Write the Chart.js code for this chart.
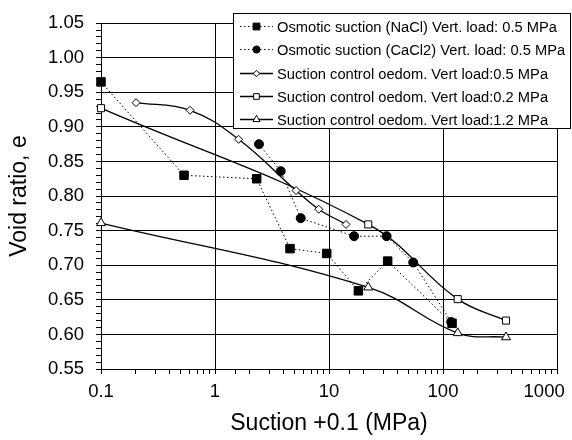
<!DOCTYPE html>
<html>
<head>
<meta charset="utf-8">
<script src="https://cdn.jsdelivr.net/npm/chart.js@4.4.1/dist/chart.umd.min.js"></script>
<style>
  html, body { margin: 0; padding: 0; background: #fff; }
  #wrap { width: 572px; height: 440px; }
</style>
</head>
<body>
<div id="wrap"><canvas id="voidChart" width="572" height="440"></canvas></div>
<script>
// Suction + 0.1 (MPa) against void ratio e, one pair of arrays per test series
const suctionNaCl = [0.1, 0.535, 2.32, 4.55, 9.55, 18.1, 32.7, 120];
const voidNaCl    = [0.965, 0.830, 0.825, 0.724, 0.717, 0.663, 0.706, 0.616];

const suctionCaCl2 = [2.43, 3.77, 5.65, 16.6, 32, 54.8, 118];
const voidCaCl2    = [0.875, 0.836, 0.768, 0.742, 0.742, 0.704, 0.618];

const suctionOed05 = [0.203, 0.604, 1.61, 5.14, 8.13, 14.1];
const voidOed05    = [0.935, 0.924, 0.882, 0.808, 0.781, 0.759];

const suctionOed02 = [0.1, 22.1, 134.6, 357];
const voidOed02    = [0.927, 0.759, 0.651, 0.620];

const suctionOed12 = [0.1, 22.1, 134.6, 357];
const voidOed12    = [0.761, 0.668, 0.602, 0.596];

const seriesLabels = [
    'Osmotic suction (NaCl) Vert. load: 0.5 MPa',
    'Osmotic suction (CaCl2) Vert. load: 0.5 MPa',
    'Suction control oedom. Vert load:0.5 MPa',
    'Suction control oedom. Vert load:0.2 MPa',
    'Suction control oedom. Vert load:1.2 MPa'
];

const xTickLabels = ['0.1', '1', '10', '100', '1000'];
const xRange = [0.1, 1000];
const yRange = [0.55, 1.05];

const FONT = '"Liberation Sans", Arial, sans-serif';

function toPoints(xs, ys) {
    return xs.map((x, i) => ({ x: x, y: ys[i] }));
}

function isDecade(v) {
    const p = Math.log10(v);
    return Math.abs(p - Math.round(p)) < 1e-9;
}

function isMajorY(v) {
    return Math.round(v * 100) % 5 === 0;
}

// Boxed legend in the top right corner, drawn over the grid
const boxLegend = {
    id: 'boxLegend',
    afterDraw(chart) {
        const ctx = chart.ctx;
        const left = 233, top = 13, right = 570, bottom = 128;
        ctx.save();
        ctx.fillStyle = '#fff';
        ctx.fillRect(left, top, right - left, bottom - top);
        ctx.strokeStyle = '#000';
        ctx.lineWidth = 1;
        ctx.strokeRect(left + 0.5, top + 0.5, right - left, bottom - top);
        ctx.font = '14.7px ' + FONT;
        ctx.textBaseline = 'middle';
        ctx.textAlign = 'left';
        chart.data.datasets.forEach((ds, i) => {
            const y = Math.round(26 + i * 23.3) + 0.5;
            ctx.strokeStyle = '#000';
            ctx.lineWidth = ds.borderWidth;
            ctx.setLineDash(ds.borderDash || []);
            ctx.beginPath();
            ctx.moveTo(240, y);
            ctx.lineTo(273, y);
            ctx.stroke();
            ctx.setLineDash([]);
            ctx.fillStyle = ds.pointBackgroundColor;
            ctx.lineWidth = 1;
            Chart.helpers.drawPoint(ctx, {
                pointStyle: ds.pointStyle,
                radius: ds.pointRadius * 0.8,
                borderWidth: 1,
                rotation: 0
            }, 256.5, y);
            ctx.fillStyle = '#000';
            ctx.fillText(ds.label, 277, y + 1);
        });
        ctx.restore();
    }
};

const dotted = [1.5, 2.5];

new Chart(document.getElementById('voidChart'), {
    type: 'scatter',
    data: {
        datasets: [
            {
                label: seriesLabels[0],
                data: toPoints(suctionNaCl, voidNaCl),
                showLine: true,
                borderColor: '#000',
                borderWidth: 1,
                borderDash: dotted,
                tension: 0,
                pointStyle: 'rect',
                pointRadius: 6,
                pointBackgroundColor: '#000',
                pointBorderColor: '#000',
                pointBorderWidth: 1,
                clip: false
            },
            {
                label: seriesLabels[1],
                data: toPoints(suctionCaCl2, voidCaCl2),
                showLine: true,
                borderColor: '#000',
                borderWidth: 1,
                borderDash: dotted,
                tension: 0,
                pointStyle: 'circle',
                pointRadius: 4.5,
                pointBackgroundColor: '#000',
                pointBorderColor: '#000',
                pointBorderWidth: 1,
                clip: false
            },
            {
                label: seriesLabels[2],
                data: toPoints(suctionOed05, voidOed05),
                showLine: true,
                borderColor: '#000',
                borderWidth: 1.3,
                tension: 0.4,
                pointStyle: 'rectRot',
                pointRadius: 4,
                pointBackgroundColor: '#fff',
                pointBorderColor: '#000',
                pointBorderWidth: 1,
                clip: false
            },
            {
                label: seriesLabels[3],
                data: toPoints(suctionOed02, voidOed02),
                showLine: true,
                borderColor: '#000',
                borderWidth: 1.3,
                tension: 0.4,
                pointStyle: 'rect',
                pointRadius: 5,
                pointBackgroundColor: '#fff',
                pointBorderColor: '#000',
                pointBorderWidth: 1,
                clip: false
            },
            {
                label: seriesLabels[4],
                data: toPoints(suctionOed12, voidOed12),
                showLine: true,
                borderColor: '#000',
                borderWidth: 1.3,
                tension: 0.4,
                pointStyle: 'triangle',
                pointRadius: 5.2,
                pointBackgroundColor: '#fff',
                pointBorderColor: '#000',
                pointBorderWidth: 1,
                clip: false
            }
        ]
    },
    options: {
        responsive: false,
        animation: false,
        layout: { padding: { top: 22, right: 15, left: 0, bottom: 0 } },
        plugins: {
            legend: { display: false },
            tooltip: { enabled: false }
        },
        scales: {
            x: {
                type: 'logarithmic',
                min: xRange[0],
                max: xRange[1],
                afterFit(scale) {
                    scale.height = 71;
                    scale.paddingLeft = 0;
                    scale.paddingRight = 0;
                },
                ticks: {
                    autoSkip: false,
                    maxRotation: 0,
                    padding: 7,
                    color: '#000',
                    font: { family: FONT, size: 18.5 },
                    callback(v) {
                        if (!isDecade(v)) return '';
                        const idx = Math.round(Math.log10(v)) + 1;
                        // last label pulled left so it stays inside the canvas
                        return idx === xTickLabels.length - 1 ? xTickLabels[idx] + '     ' : xTickLabels[idx];
                    }
                },
                grid: {
                    color: (c) => isDecade(c.tick.value) ? '#000' : 'rgba(0,0,0,0)',
                    tickColor: '#000',
                    tickLength: 5,
                    lineWidth: 1
                },
                border: { display: true, color: '#000', width: 1 },
                title: {
                    display: true,
                    text: 'Suction +0.1 (MPa)',
                    color: '#000',
                    font: { family: FONT, size: 23 },
                    padding: { top: 0, bottom: 3 }
                }
            },
            y: {
                min: yRange[0],
                max: yRange[1],
                afterFit(scale) {
                    scale.width = 101;
                },
                ticks: {
                    stepSize: 0.01,
                    autoSkip: false,
                    padding: 12,
                    color: '#000',
                    font: { family: FONT, size: 18.5 },
                    callback: (v) => isMajorY(v) ? v.toFixed(2) : ''
                },
                grid: {
                    color: (c) => isMajorY(c.tick.value) ? '#000' : 'rgba(0,0,0,0)',
                    tickColor: '#000',
                    tickLength: 5,
                    lineWidth: 1
                },
                border: { display: true, color: '#000', width: 1 },
                title: {
                    display: true,
                    text: 'Void ratio, e',
                    color: '#000',
                    font: { family: FONT, size: 23 },
                    padding: { top: 6, bottom: 0 }
                }
            }
        }
    },
    plugins: [boxLegend]
});
</script>
</body>
</html>
